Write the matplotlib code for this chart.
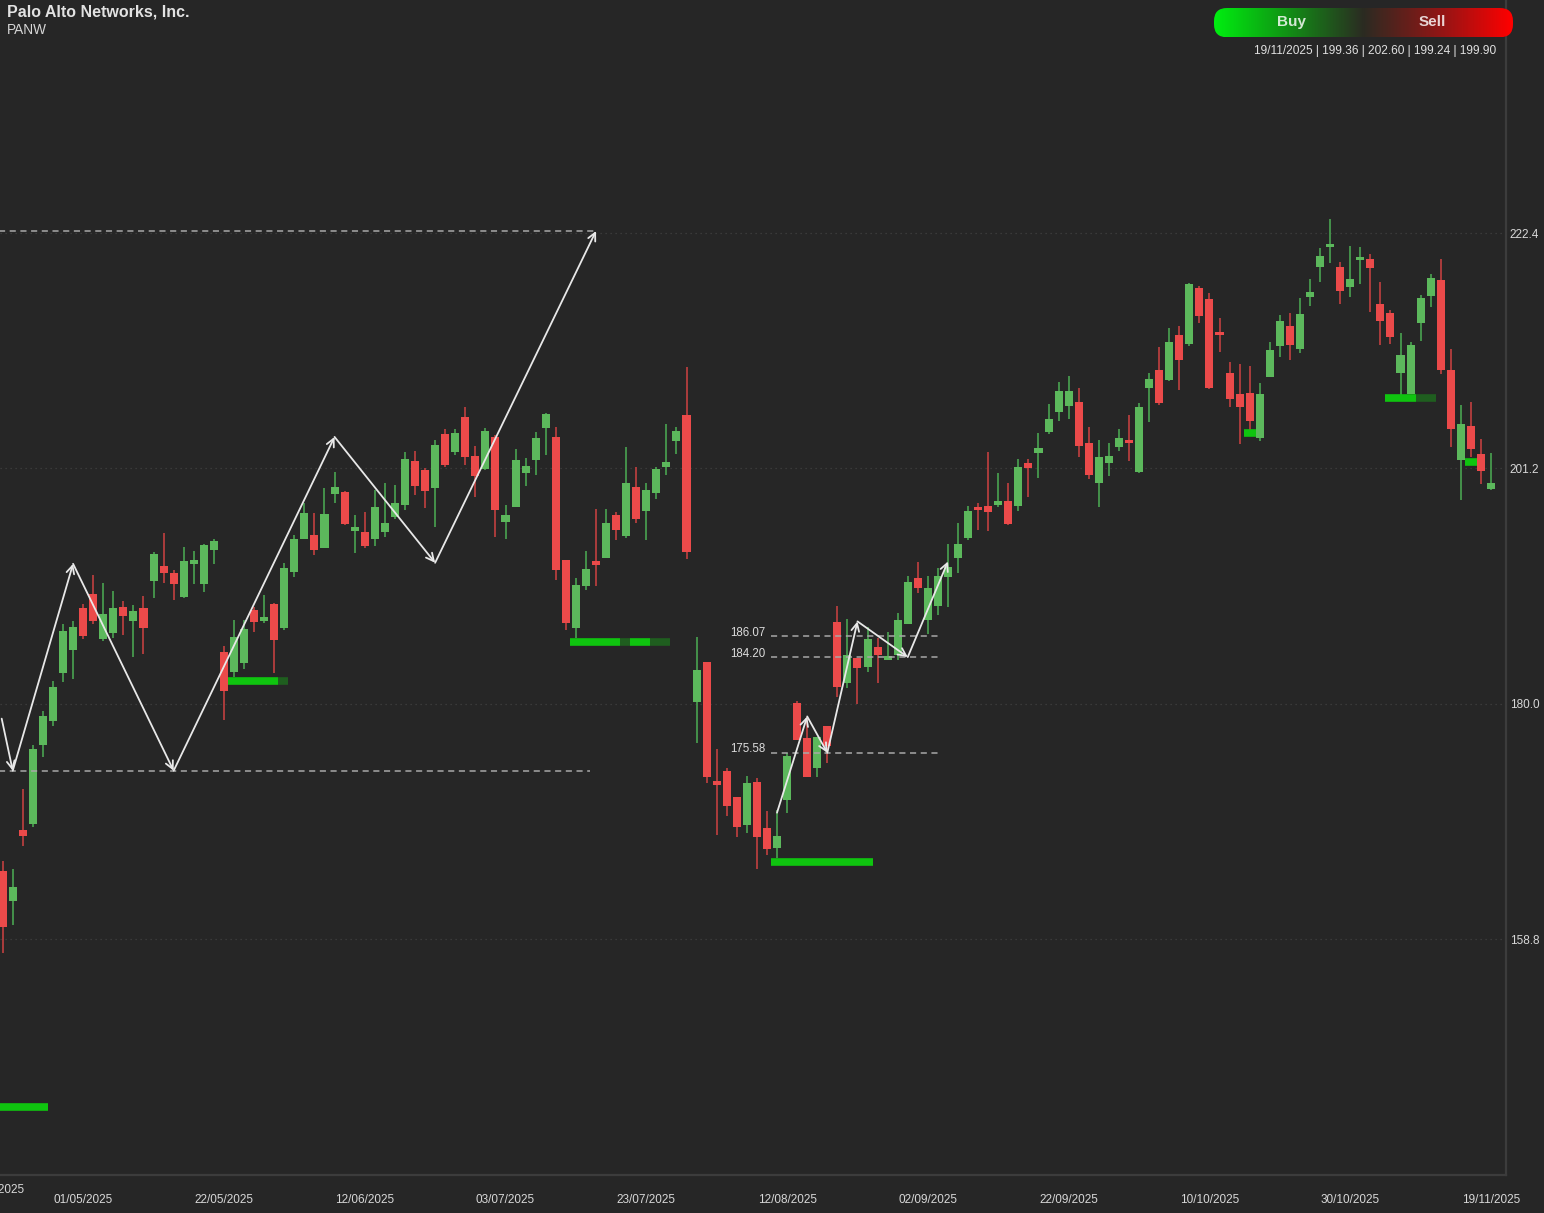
import matplotlib
matplotlib.use('Agg')
import matplotlib.pyplot as plt
import numpy as np
import matplotlib.transforms as mtransforms
from matplotlib.patches import FancyBboxPatch
from matplotlib.colors import LinearSegmentedColormap

plt.rcParams['font.family'] = ['Liberation Sans', 'DejaVu Sans']

# ---------------- data ----------------
opens = [164.96, 162.26, 168.65, 169.19, 176.31, 178.47, 182.79, 184.86, 188.64, 189.90,
         185.85, 186.39, 188.73, 187.47, 188.64, 191.07, 192.42, 191.79, 189.63, 192.60,
         190.80, 193.86, 184.68, 182.88, 183.69, 188.46, 187.47, 189.00, 186.84, 191.88,
         194.85, 195.21, 194.04, 198.90, 199.08, 195.57, 195.48, 194.85, 195.48, 196.83,
         197.91, 201.87, 201.06, 199.44, 204.30, 202.68, 205.84, 202.32, 201.15, 204.03,
         196.38, 197.73, 200.79, 201.96, 204.84, 204.03, 192.96, 186.84, 190.62, 192.87,
         193.14, 197.01, 195.12, 199.53, 197.37, 199.00, 201.33, 203.67, 206.02, 180.18,
         183.78, 173.07, 173.97, 171.63, 169.11, 172.98, 168.84, 167.04, 171.36, 180.09,
         176.94, 174.24, 178.02, 187.38, 181.89, 184.14, 183.33, 185.13, 183.96, 184.41,
         187.20, 191.34, 187.56, 188.82, 191.43, 193.14, 194.94, 197.64, 197.82, 197.91,
         198.27, 197.82, 201.69, 202.59, 204.48, 206.29, 206.83, 207.19, 203.49, 199.89,
         201.69, 203.13, 203.76, 200.88, 208.45, 210.07, 209.17, 213.22, 212.41, 217.45,
         216.46, 213.40, 209.80, 207.91, 208.00, 203.94, 209.44, 212.23, 214.03, 211.96,
         216.64, 219.34, 221.14, 219.34, 217.54, 219.97, 220.06, 216.01, 215.20, 209.80,
         207.91, 214.30, 216.73, 218.17, 210.07, 201.96, 205.03, 202.50, 199.36]
highs = [165.87, 165.14, 172.35, 176.31, 179.37, 182.07, 187.20, 187.47, 189.00, 191.61,
         190.89, 190.17, 189.27, 188.91, 189.72, 193.68, 195.39, 192.06, 194.13, 193.77,
         194.40, 194.85, 185.22, 187.56, 187.56, 188.73, 189.81, 189.09, 192.69, 195.21,
         198.09, 197.19, 199.44, 200.88, 199.17, 197.01, 197.28, 199.26, 199.89, 199.71,
         202.68, 202.77, 201.24, 203.76, 204.75, 204.75, 206.74, 203.22, 204.84, 204.21,
         197.91, 202.95, 202.14, 204.48, 206.19, 204.93, 192.96, 191.34, 193.77, 197.55,
         197.55, 197.28, 203.13, 201.33, 199.89, 201.33, 205.20, 204.93, 210.34, 186.03,
         183.78, 175.95, 174.24, 171.63, 173.52, 173.34, 170.37, 170.46, 175.59, 180.27,
         178.83, 177.03, 178.02, 188.82, 187.65, 184.14, 186.93, 185.94, 186.48, 188.19,
         191.52, 192.78, 191.52, 192.24, 194.40, 196.29, 197.82, 198.09, 202.68, 200.79,
         199.89, 202.05, 202.05, 204.39, 207.00, 208.99, 209.53, 208.45, 204.93, 203.76,
         203.49, 204.75, 206.02, 207.10, 209.80, 212.14, 213.85, 214.03, 217.90, 217.63,
         217.00, 214.75, 210.79, 210.61, 210.43, 208.90, 212.59, 215.02, 215.20, 216.55,
         218.26, 221.05, 223.66, 219.79, 221.23, 221.14, 220.51, 217.99, 215.47, 213.40,
         212.59, 216.82, 218.71, 220.06, 211.96, 206.92, 207.19, 203.85, 202.60]
lows = [157.58, 160.10, 167.21, 168.90, 175.23, 178.02, 181.98, 182.25, 185.85, 187.20,
        185.67, 185.94, 186.21, 184.23, 184.50, 189.54, 190.89, 189.36, 189.54, 190.80,
        190.08, 192.60, 178.56, 182.43, 183.15, 186.48, 187.29, 182.79, 186.66, 191.43,
        194.85, 193.41, 194.04, 198.09, 196.11, 193.59, 194.04, 194.22, 195.03, 196.65,
        197.46, 198.81, 197.64, 195.93, 201.33, 202.41, 201.51, 198.63, 201.06, 195.03,
        194.85, 197.73, 199.62, 200.61, 202.41, 191.16, 186.66, 185.94, 190.26, 190.62,
        193.14, 194.76, 194.94, 196.29, 194.76, 198.45, 200.61, 202.50, 193.05, 176.49,
        172.89, 168.21, 169.92, 168.03, 168.39, 165.15, 166.41, 166.14, 170.19, 176.76,
        173.43, 173.43, 174.69, 180.63, 181.44, 180.00, 182.88, 181.89, 183.96, 183.96,
        187.20, 190.00, 186.30, 187.99, 188.73, 191.79, 194.76, 195.66, 195.57, 197.73,
        196.11, 197.37, 198.63, 200.34, 204.30, 205.48, 205.66, 202.23, 200.25, 197.73,
        200.52, 202.77, 201.87, 200.79, 205.39, 206.92, 209.08, 208.27, 212.23, 214.30,
        208.36, 211.69, 206.74, 203.40, 204.66, 203.67, 209.44, 211.24, 210.97, 211.60,
        215.83, 217.99, 219.70, 216.01, 216.64, 217.81, 215.29, 212.32, 212.41, 207.82,
        207.91, 212.68, 215.74, 209.71, 203.13, 198.36, 202.23, 199.80, 199.24]
closes = [159.92, 163.52, 168.11, 175.95, 178.92, 181.53, 186.57, 186.93, 186.12, 187.47,
          188.10, 188.64, 187.92, 188.37, 186.84, 193.50, 191.79, 190.80, 192.87, 192.96,
          194.31, 194.67, 181.17, 186.03, 186.75, 187.38, 187.83, 185.76, 192.24, 194.85,
          197.19, 193.86, 197.10, 199.53, 196.20, 195.93, 194.22, 197.73, 196.29, 198.09,
          202.05, 199.62, 199.17, 203.31, 201.51, 204.39, 202.23, 200.52, 204.57, 197.46,
          197.01, 201.96, 201.42, 203.94, 206.10, 192.06, 187.29, 190.71, 192.15, 192.51,
          196.29, 195.66, 199.89, 196.65, 199.26, 201.15, 201.78, 204.57, 193.68, 183.06,
          173.43, 172.71, 170.82, 168.93, 172.89, 168.03, 166.95, 168.12, 175.32, 176.76,
          173.43, 177.03, 176.22, 181.53, 184.41, 183.24, 185.85, 184.41, 184.23, 187.56,
          190.98, 190.44, 190.44, 191.52, 192.33, 194.40, 197.37, 197.46, 197.28, 198.27,
          196.20, 201.33, 201.24, 203.04, 205.65, 208.18, 208.18, 203.22, 200.61, 202.23,
          202.32, 203.94, 203.49, 206.74, 209.26, 207.10, 212.59, 210.97, 217.81, 214.93,
          208.45, 213.22, 207.46, 206.74, 205.48, 207.91, 211.87, 214.48, 212.32, 215.11,
          217.09, 220.33, 221.41, 217.18, 218.26, 220.24, 219.25, 214.48, 213.04, 211.42,
          212.32, 216.55, 218.35, 210.07, 204.75, 205.21, 202.95, 200.97, 199.90]

tick_idx = [8, 22, 36, 50, 64, 78, 92, 106, 120, 134, 148]
tick_labels = ['01/05/2025', '22/05/2025', '12/06/2025', '03/07/2025', '23/07/2025',
               '12/08/2025', '02/09/2025', '22/09/2025', '10/10/2025', '30/10/2025',
               '19/11/2025']
first_label = '21/04/2025'
price_ticks = [158.8, 180.0, 201.2, 222.4]

# zigzag wave paths
zz1_idx = [-0.1, 1, 7, 17, 33, 43, 59]
zz1_price = [178.65, 173.96, 192.60, 173.96, 204.03, 192.69, 222.58]
zz2_idx = [77, 80, 82, 85, 90, 94]
zz2_price = [170.18, 178.85, 175.58, 187.41, 184.20, 192.81]

# dashed levels (unlabelled)
lvl_a_price = [222.58, 173.96]
lvl_a_start = [-1.0, -1.0]
lvl_a_end = [59.0, 58.4]
# dashed levels (labelled)
lvl_b_price = [186.07, 184.20, 175.58]
lvl_b_start = 76.4
lvl_b_end = 93.4

# green support bars: price, start, end, shade (1 bright / 0 dark)
bar_price = [143.71, 182.00, 182.00, 185.57, 185.57, 185.57, 185.57, 165.74, 204.34,
             207.54, 207.54, 201.77]
bar_start = [-1.0, 22.4, 27.4, 56.4, 61.4, 62.4, 64.4, 76.4, 123.4, 137.5, 140.5, 145.4]
bar_end = [4.5, 27.4, 28.4, 61.4, 62.4, 64.4, 66.4, 86.5, 124.6, 140.5, 142.5, 146.6]
bar_shade = [1, 1, 0, 1, 0, 1, 0, 1, 1, 1, 0, 1]

title = 'Palo Alto Networks, Inc.'
ticker = 'PANW'
info = '19/11/2025 | 199.36 | 202.60 | 199.24 | 199.90'

# ---------------- figure ----------------
W, H = 1544, 1213
BG = '#262626'
fig = plt.figure(figsize=(W / 100, H / 100), dpi=100, facecolor=BG)
ax = fig.add_axes([0, 38 / H, 1505.5 / W, 1175 / H], facecolor=BG)
ax.set_xlim(-0.268, 149.44)
ax.set_ylim(137.54, 243.39)

GREEN = '#5cb85c'
RED = '#eb4a4a'
GREEN_W = '#479a4d'
RED_W = '#b53e3e'

x = np.arange(len(opens))
o = np.array(opens); h = np.array(highs); l = np.array(lows); c = np.array(closes)
up = c >= o
body_lo = np.minimum(o, c)
body_h = np.maximum(np.abs(c - o), 0.3)
ax.vlines(x[up], l[up], h[up], color=GREEN_W, lw=1.3, zorder=2)
ax.vlines(x[~up], l[~up], h[~up], color=RED_W, lw=1.3, zorder=2)
ax.bar(x[up], body_h[up], bottom=body_lo[up], width=0.8, color=GREEN, linewidth=0, zorder=3)
ax.bar(x[~up], body_h[~up], bottom=body_lo[~up], width=0.8, color=RED, linewidth=0, zorder=3)

# grid
for p in price_ticks:
    ax.axhline(p, color='#414141', lw=0.9, ls=(0, (1, 3)), zorder=0)

# dashed levels
for p, s, e in zip(lvl_a_price, lvl_a_start, lvl_a_end):
    ax.hlines(p, s, e, color='#a8a8a8', lw=1.1, ls=(0, (4, 3)), zorder=4)
for p in lvl_b_price:
    ax.hlines(p, lvl_b_start, lvl_b_end, color='#a8a8a8', lw=1.1, ls=(0, (4, 3)), zorder=4)
    ax.annotate(f'{p:.2f}', xy=(lvl_b_start, p), xytext=(-4, 2.5), textcoords='offset points',
                ha='right', va='center', fontsize=8.3, color='#dcdcdc', zorder=6)

# green bars
for p, s, e, sh in zip(bar_price, bar_start, bar_end, bar_shade):
    ax.hlines(p, s, e, color='#0fc40f' if sh else '#1f5e1f', lw=5.5, capstyle='butt', zorder=4)

# zigzags
def zigzag(xs, ys):
    for i in range(len(xs) - 1):
        ax.annotate('', xy=(xs[i + 1], ys[i + 1]), xytext=(xs[i], ys[i]),
                    arrowprops=dict(arrowstyle='->', color='#e8e8e8', lw=1.3,
                                    mutation_scale=14, shrinkA=0, shrinkB=0),
                    zorder=5)

zigzag(zz1_idx, zz1_price)
zigzag(zz2_idx, zz2_price)

# axes styling
for s in ['top', 'left']:
    ax.spines[s].set_visible(False)
for s in ['right', 'bottom']:
    ax.spines[s].set_color('#3c3c3c')
    ax.spines[s].set_linewidth(1.6)
ax.yaxis.tick_right()
ax.set_yticks(price_ticks)
ax.set_yticklabels([f'{p:.1f}' for p in price_ticks])
ax.tick_params(axis='y', length=0, pad=3.0, labelsize=8.5, labelcolor='#d8d8d8')
ax.set_xticks(tick_idx)
ax.set_xticklabels(tick_labels)
ax.tick_params(axis='x', length=0, pad=13.5, labelsize=8.5, labelcolor='#d8d8d8')

trans = mtransforms.blended_transform_factory(ax.transData, fig.transFigure)
ax.text(-0.8, 1 - 1190 / H, first_label, transform=trans, ha='center', va='center',
        fontsize=8.5, color='#d8d8d8', clip_on=False)

# header
fig.text(7 / W, 1 - 12 / H, title, ha='left', va='center', fontsize=11.5,
         fontweight='bold', color='#e2e2e2')
fig.text(7 / W, 1 - 30 / H, ticker, ha='left', va='center', fontsize=9.8, color='#d6d6d6')
fig.text(1496 / W, 1 - 51 / H, info, ha='right', va='center', fontsize=8.6, color='#e0e0e0')

# buy / sell gradient button
bw, bh = 299, 29.3
bax = fig.add_axes([1214 / W, 1 - 37.3 / H, bw / W, bh / H])
bax.set_xlim(0, bw); bax.set_ylim(0, bh); bax.axis('off')
cmap = LinearSegmentedColormap.from_list('bs', [(0.0, '#00ee10'), (0.22, '#0f9a14'),
                                                (0.5, '#2b2b22'), (0.78, '#9a1414'),
                                                (1.0, '#ff0000')])
im = bax.imshow(np.linspace(0, 1, 400).reshape(1, -1), extent=(0, bw, 0, bh),
                aspect='auto', cmap=cmap)
patch = FancyBboxPatch((0, 0), bw, bh, boxstyle='round,pad=0,rounding_size=13',
                       transform=bax.transData, facecolor='none', edgecolor='none')
bax.add_patch(patch)
im.set_clip_path(patch)
bax.text(78, 15.0, 'Buy', ha='center', va='center', fontsize=11, fontweight='bold',
         color='white', alpha=0.82)
bax.text(218, 15.0, 'Sell', ha='center', va='center', fontsize=11, fontweight='bold',
         color='white', alpha=0.82)

fig.savefig('out.png', dpi=100, facecolor=BG)
